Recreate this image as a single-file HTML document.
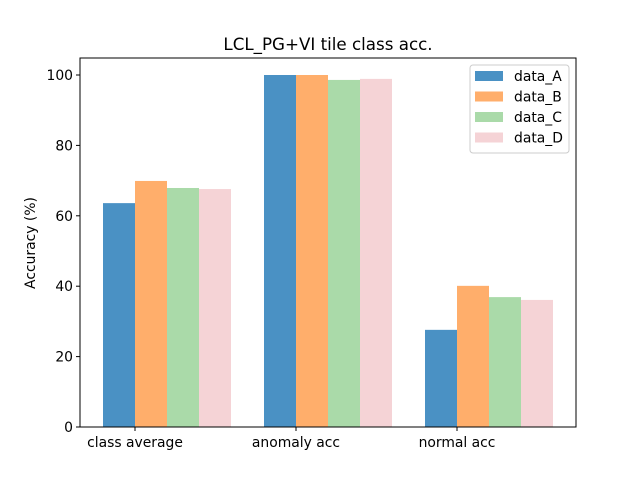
<!DOCTYPE html>
<html><head><meta charset="utf-8"><style>body{margin:0;background:#fff}svg{display:block;font-family:"DejaVu Sans","Liberation Sans",sans-serif}</style></head>
<body>
<svg id="chart" width="640" height="480">
<rect width="640" height="480" fill="#fff"/>
<text x="328" y="50" font-size="16.7" text-anchor="middle">LCL_PG+VI tile class acc.</text>
<g id="plot"></g>
<text transform="translate(35,243) rotate(-90)" font-size="13.9" text-anchor="middle">Accuracy (%)</text>
</svg>
<script>
const categories = ["class average", "anomaly acc", "normal acc"];
const seriesNames = ["data_A", "data_B", "data_C", "data_D"];
const dataA = [63.6, 100, 27.6];
const dataB = [69.9, 100, 40.1];
const dataC = [67.9, 98.6, 36.9];
const dataD = [67.6, 98.9, 36.1];
const yTicks = [0, 20, 40, 60, 80, 100];
const colors = ["#4a91c4", "#ffae6b", "#aadaa9", "#f5d3d6"];
const series = [dataA, dataB, dataC, dataD];
const NS = "http://www.w3.org/2000/svg";
const L = 80, R = 576, T = 58, B = 427;
const y = v => B - v * 3.52;
const xTick = i => 135 + i * 161;
const bw = 32;
const g = document.getElementById('plot');
function mk(tag, at) { const e = document.createElementNS(NS, tag); for (const k in at) e.setAttribute(k, at[k]); g.appendChild(e); return e; }
series.forEach((s, si) => s.forEach((v, ci) => {
  const r = mk('rect', {x: xTick(ci) - bw + si * bw, y: y(v), width: bw, height: B - y(v), fill: colors[si]});
  
  
}));
const fr = mk('rect', {x: L, y: T, width: R - L, height: B - T, fill: 'none', stroke: '#000', 'stroke-width': 1});


yTicks.forEach(t => {
  mk('line', {x1: L - 4, x2: L, y1: y(t), y2: y(t), stroke: '#000'});
  const tx = mk('text', {x: L - 7, y: y(t) + 5, 'font-size': 13.9, 'text-anchor': 'end'});
  tx.textContent = t;
  
  
});
categories.forEach((c, i) => {
  mk('line', {x1: xTick(i), x2: xTick(i), y1: B, y2: B + 4, stroke: '#000'});
  const tx = mk('text', {x: xTick(i), y: B + 20, 'font-size': 13.9, 'text-anchor': 'middle'});
  tx.textContent = c;
  
  
});
const lg = mk('rect', {x: 470, y: 65, width: 99, height: 88, fill: '#fff', stroke: '#ccc', rx: 3});


seriesNames.forEach((n, i) => {
  const yy = 76 + i * 20.5;
  mk('rect', {x: 475, y: yy - 5, width: 28, height: 10, fill: colors[i]});
  const tx = mk('text', {x: 514, y: yy + 5, 'font-size': 13.9});
  tx.textContent = n;
  
  
});
</script>
</body></html>
